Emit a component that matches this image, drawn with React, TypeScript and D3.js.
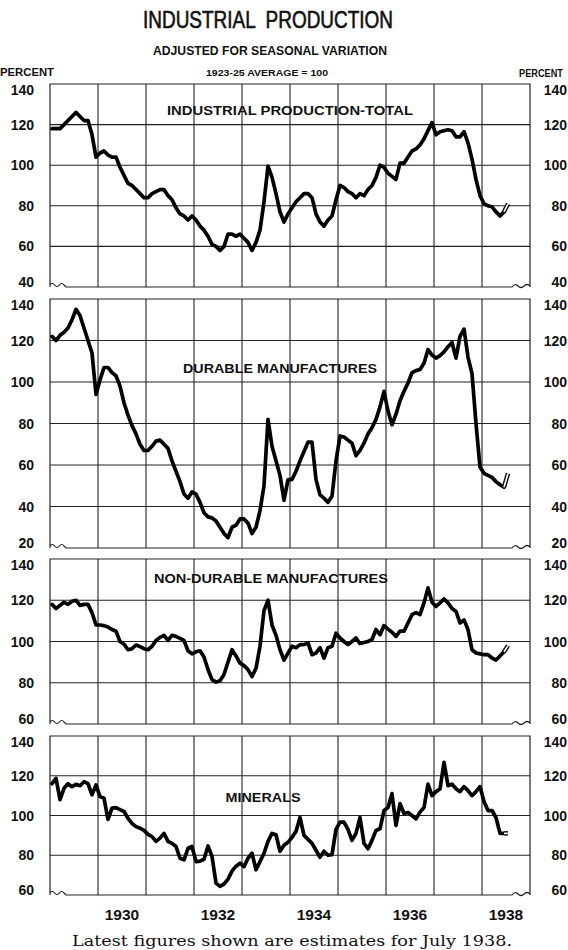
import React, { useEffect, useRef } from "react";
import * as d3 from "d3";

// monthly index numbers, Jan 1929 - Jul 1938 (1923-25 average = 100)
// the last month of every series is an estimate and is drawn hollow
const totalValues = [
  118, 118, 118, 120, 122, 124, 126, 124, 122, 122, 115, 104,
  106, 107, 105, 104, 104, 99, 95, 91, 90, 88, 86, 84,
  84, 86, 87, 88, 88, 85, 83, 79, 76, 75, 73, 75,
  73, 70, 68, 65, 61, 60, 58, 60, 66, 66, 65, 66,
  64, 62, 58, 62, 68, 82, 99.5, 94, 86, 77, 72, 76,
  79, 82, 84, 86, 86, 84, 76, 72, 70, 73, 75, 83,
  90, 89, 87, 86, 84, 86, 85, 88, 90, 94, 100, 99,
  96, 94.5, 93, 101, 101, 104, 107, 108, 110, 113, 117, 121,
  115, 116.5, 117, 117.5, 117, 114, 114, 116.5, 111, 103, 93, 85,
  81, 80, 79.5, 77, 75, 77, 81,
];

const durableValues = [
  122, 120, 122.5, 124, 126, 130, 135, 132, 126, 120, 114, 94,
  101, 107, 107, 104.5, 103, 98, 90, 84, 79, 75, 70, 67,
  67, 69, 71.5, 72, 70, 68, 62, 57, 52, 46, 44, 47,
  46, 42, 37, 35, 34.5, 33, 30, 27, 25, 30, 31, 34,
  34, 32, 27, 30, 38, 50, 82, 69, 62, 55, 43, 53,
  53, 57, 62, 66.5, 71, 71, 53, 45.6, 44, 42, 45, 62,
  74, 73.5, 72, 70.5, 64.5, 67, 70.5, 75, 78, 82, 88, 95.5,
  86, 79.4, 84.5, 91, 95.5, 99.5, 104.5, 105.5, 106, 109, 115.6, 113,
  111.5, 112.7, 114.5, 117, 119, 111.5, 122, 125.5, 112, 104, 80, 59,
  56, 55, 54, 52, 50.5, 49.3, 56,
];

const nonDurableValues = [
  118, 116, 117.5, 119, 118, 119.5, 120, 117.5, 118, 118, 114, 108,
  108, 107.7, 107, 105.8, 105, 100, 98.7, 96, 96.5, 98.3, 97.5, 96.5,
  96, 97.7, 100.5, 102, 103, 100.5, 103, 102.5, 101.5, 100.5, 95.5, 94,
  95, 95.5, 92.5, 86.4, 81.5, 80.3, 81, 84, 90, 96, 93, 89.5,
  88.3, 86.4, 83, 87, 97.7, 115, 120, 108, 103, 96, 91, 94.4,
  97.7, 97, 98.5, 98.5, 99.3, 93.6, 94.4, 97, 92, 97, 97.7, 104,
  101.7, 100, 98.5, 100, 101.7, 99, 99.5, 100, 101, 105.8, 103.3, 107.7,
  106, 104.5, 102.5, 105, 105, 109, 113, 114, 113, 118.7, 126, 119,
  117, 118.7, 120.6, 118.7, 116, 114.6, 109, 110.5, 105.8, 96, 94.4, 94,
  93.6, 93.6, 92, 91, 93, 95, 98,
];

const mineralsValues = [
  116, 118.7, 108, 113.7, 116, 114.5, 115.7, 115, 117, 116, 110.4, 115.4,
  109.5, 108.7, 98, 103.7, 104, 103, 102, 98.6, 96, 94.4, 93.6, 92.5,
  90.5, 89.4, 87, 88.6, 91, 87, 86, 84.4, 78.5, 77.7, 83.5, 84.4,
  76.8, 77, 78, 84.7, 79.4, 66, 64.3, 65.5, 68, 72, 74.5, 76,
  74.3, 78.5, 81, 72.7, 76.8, 81, 87, 91, 90.3, 82, 85, 86.5,
  89, 92, 99, 90, 88, 86, 82.5, 79, 82, 80, 80.3, 93,
  96.7, 96.7, 93, 87.5, 91, 99, 86, 83.3, 87.5, 92.5, 93.3, 102.5,
  104, 111, 95, 106, 101, 101.5, 100, 98.3, 101.7, 104, 115.8, 110,
  112, 113.3, 126.7, 115, 115.8, 113.5, 112, 114.5, 112.5, 110, 112, 114.5,
  107, 102.5, 102.5, 99, 91, 91, 91,
];

const yearLabels = [1930, 1932, 1934, 1936, 1938];
const firstYear = 1929;
const lastYear = 1938;

const W = 568;
const H = 950;
const SANS = "'Liberation Sans', Arial, sans-serif";

interface Panel {
  name: string;
  values: number[];
  min: number;
  max: number;
  top: number;
  bottom: number;
  labelX: number;
  labelY: number;
  labelW: number;
}

const panels: Panel[] = [
  { name: "INDUSTRIAL PRODUCTION-TOTAL", values: totalValues, min: 40, max: 140, top: 84, bottom: 287, labelX: 290, labelY: 115, labelW: 246 },
  { name: "DURABLE MANUFACTURES", values: durableValues, min: 20, max: 140, top: 299, bottom: 548, labelX: 280, labelY: 373, labelW: 194 },
  { name: "NON-DURABLE MANUFACTURES", values: nonDurableValues, min: 60, max: 140, top: 559, bottom: 724, labelX: 271, labelY: 583, labelW: 234 },
  { name: "MINERALS", values: mineralsValues, min: 60, max: 140, top: 736, bottom: 895, labelX: 263, labelY: 802, labelW: 75 },
];

// small "~" break marks used on the bottom edge of every panel
const wavy = (xa: number, xb: number, y: number, n = 3) => {
  const step = (xb - xa) / n;
  let d = "";
  for (let i = 0; i < n; i++) {
    d += ` Q${xa + step * (i + 0.5)},${y + (i % 2 ? 3 : -3)} ${xa + step * (i + 1)},${y}`;
  }
  return d;
};

const IndustrialChart: React.FC = () => {
  const svgRef = useRef<SVGSVGElement>(null);

  useEffect(() => {
    const svg = d3.select(svgRef.current);
    svg.html("");

    const months = (lastYear - firstYear + 1) * 12;
    const x = d3.scaleLinear().domain([0, months]).range([50, 530]);
    const monthX = (i: number) => x(i + 0.5);

    const text = (
      s: string,
      px: number,
      py: number,
      size: number,
      opts: { anchor?: string; weight?: string; family?: string; len?: number } = {}
    ) => {
      const t = svg
        .append("text")
        .attr("x", px)
        .attr("y", py)
        .attr("font-family", opts.family ?? SANS)
        .attr("font-size", size)
        .attr("font-weight", opts.weight ?? "bold")
        .attr("text-anchor", opts.anchor ?? "middle")
        .attr("fill", "#111")
        .style("white-space", "pre")
        .text(s);
      if (opts.len) t.attr("textLength", opts.len).attr("lengthAdjust", "spacingAndGlyphs");
      return t;
    };

    // headings
    text("INDUSTRIAL  PRODUCTION", 268, 28, 23, { weight: "normal", len: 250 }).attr("stroke", "#111").attr("stroke-width", 0.6);
    text("ADJUSTED FOR SEASONAL VARIATION", 270, 55, 12, { len: 234 });
    text("1923-25 AVERAGE = 100", 267, 76, 9.5, { len: 122 });
    text("PERCENT", 0, 76, 10.5, { anchor: "start", len: 54 });
    text("PERCENT", 563, 77, 10, { anchor: "end", len: 44 });

    const yearTicks = d3.range(firstYear + 1, lastYear + 1).map((yr) => x((yr - firstYear) * 12));

    panels.forEach((p) => {
      const y = d3.scaleLinear().domain([p.min, p.max]).range([p.bottom, p.top]);
      const ticks = d3.range(p.min, p.max + 1, 20);
      const g = svg.append("g");

      // grid
      g.selectAll("line.h")
        .data(ticks.filter((t) => t !== p.min && t !== p.max))
        .join("line")
        .attr("x1", x(0))
        .attr("x2", x(months))
        .attr("y1", (t) => y(t))
        .attr("y2", (t) => y(t))
        .attr("stroke", "#222")
        .attr("stroke-width", 1.1);
      g.selectAll("line.v")
        .data(yearTicks)
        .join("line")
        .attr("x1", (d) => d)
        .attr("x2", (d) => d)
        .attr("y1", p.top)
        .attr("y2", p.bottom)
        .attr("stroke", "#222")
        .attr("stroke-width", 1.1);

      // frame, with breaks on the bottom edge
      const xl = x(0);
      const xr = x(months);
      const yb = p.bottom;
      g.append("path")
        .attr(
          "d",
          `M${xl},${yb} L${xl},${p.top} L${xr},${p.top} L${xr},${yb}` +
            ` M${xl},${yb - 2}` + wavy(xl, xl + 14, yb - 2) + ` L${xl + 16},${yb} L${xr - 18},${yb}` +
            wavy(xr - 18, xr, yb - 1)
        )
        .attr("fill", "none")
        .attr("stroke", "#222")
        .attr("stroke-width", 1.2);

      // value labels both sides: top one hangs below the frame, bottom one sits on it
      ticks.forEach((t) => {
        const ly = t === p.max ? p.top + 10.5 : t === p.min ? p.bottom - 0.5 : y(t) + 5;
        text(String(t), 34, ly, 14, { anchor: "end" });
        text(String(t), 567, ly, 14, { anchor: "end" });
      });

      // series
      const line = d3
        .line<number>()
        .x((_, i) => monthX(i))
        .y((d) => y(d));
      const n = p.values.length;
      g.append("path")
        .datum(p.values.slice(0, n - 1))
        .attr("d", line)
        .attr("fill", "none")
        .attr("stroke", "#000")
        .attr("stroke-width", 3.7)
        .attr("stroke-linejoin", "round")
        .attr("stroke-linecap", "round");

      const est = d3
        .line<number>()
        .x((_, i) => monthX(n - 2 + i))
        .y((d) => y(d));
      const last = p.values.slice(n - 2);
      g.append("path").datum(last).attr("d", est).attr("stroke", "#000").attr("stroke-width", 4.4).attr("fill", "none");
      g.append("path").datum(last).attr("d", est).attr("stroke", "#fff").attr("stroke-width", 1.7).attr("fill", "none");

      text(p.name, p.labelX, p.labelY, 13, { len: p.labelW });
    });

    // year labels, centred in the year
    yearLabels.forEach((yr) => {
      text(String(yr), x((yr - firstYear) * 12 + 6), 920, 15.5);
    });

    text("Latest figures shown are estimates for July 1938.", 292, 946, 14.5, {
      weight: "normal",
      family: "'DejaVu Serif', 'Liberation Serif', serif",
      len: 440,
    });
  }, []);

  return (
    <svg
      ref={svgRef}
      width={W}
      height={H}
      style={{ position: "absolute", left: 0, top: 0, background: "#fff" }}
    />
  );
};

export default function App() {
  return <IndustrialChart />;
}
